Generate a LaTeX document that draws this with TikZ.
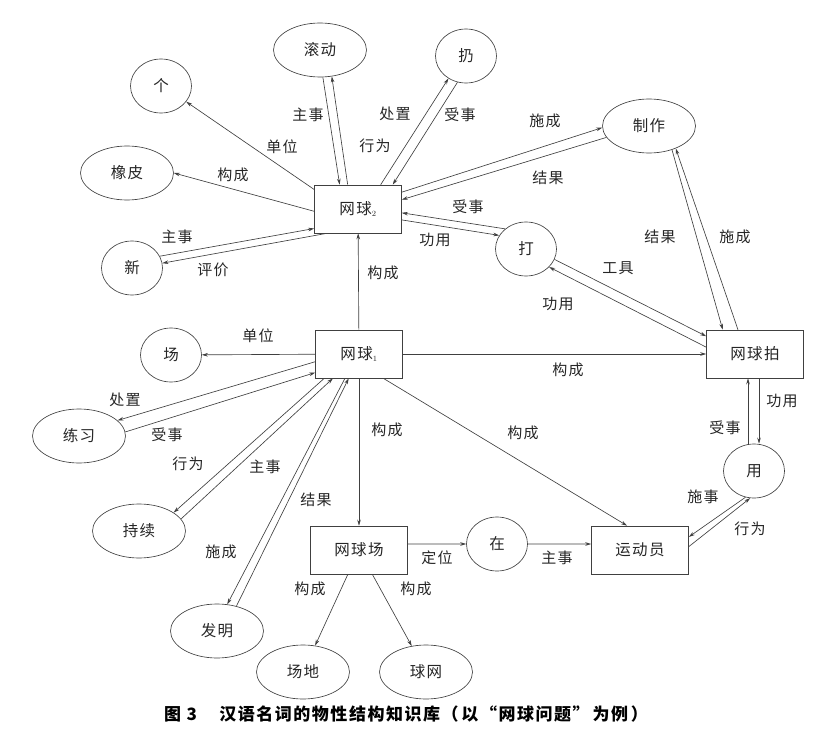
\documentclass[tikz,border=0pt]{standalone}
\usepackage{fontspec}
\setmainfont{Noto Sans CJK SC}[LetterSpace=9]
\usepackage{tikz}
\usetikzlibrary{shapes.geometric, arrows.meta}

\tikzset{
  oval/.style={draw=black!75, line width=0.65pt, ellipse, inner sep=0pt,
    minimum width=93pt, minimum height=54pt, text=black!85,
    font=\fontsize{15.5}{18}\selectfont},
  ring/.style={oval, minimum width=61pt},
  box/.style={draw=black!75, line width=0.65pt, rectangle, inner sep=0pt,
    minimum width=87pt, minimum height=48pt, text=black!85,
    font=\fontsize{15.5}{18}\selectfont},
  wbox/.style={box, minimum width=97pt},
  lab/.style={inner sep=0pt, text=black!85, font=\fontsize{15}{17}\selectfont},
  arr/.style={draw=black!75, line width=0.65pt, -{Stealth[length=6pt,width=3.6pt]}}
}

\begin{document}
\begin{tikzpicture}[x=1pt, y=-1pt]
\useasboundingbox (0,0) rectangle (832,746);

% concepts
\node[box] (wq2) at (358,209) {网球$_{\scriptscriptstyle 2}$};
\node[box] (wq1) at (359,354) {网球$_{\scriptscriptstyle 1}$};
\node[wbox] (pai) at (755,354) {网球拍};
\node[wbox] (qc) at (359,550) {网球场};
\node[wbox] (ydy) at (640,550) {运动员};
\node[oval] (gd) at (320,50) {滚动};
\node[ring] (reng) at (466,56) {扔};
\node[ring] (ge) at (161,86) {个};
\node[oval] (xp) at (127,173) {橡皮};
\node[ring] (xin) at (132,268) {新};
\node[oval] (zz) at (649,126) {制作};
\node[ring] (da) at (526,249) {打};
\node[ring] (chang) at (171,355) {场};
\node[oval] (lx) at (79,436) {练习};
\node[oval] (cx) at (139,531) {持续};
\node[oval] (fm) at (217,631) {发明};
\node[oval] (cd) at (303,672) {场地};
\node[oval] (qw) at (426,672) {球网};
\node[ring] (zai) at (497,544) {在};
\node[ring] (yong) at (754,471) {用};

% relations of wangqiu2
\draw[arr] (wq2.156) -- (ge.-32);
\draw[arr] (wq2.183) -- (xp.0);
\draw[arr] (xin.23) -- (wq2.204);
\draw[arr] (wq2.218) -- (xin.9);
\draw[arr] (gd.-84) -- (wq2.127);
\draw[arr] (wq2.113) -- (gd.-66);
\draw[arr] (wq2.47) -- (reng.-128);
\draw[arr] (reng.-108) -- (wq2.35);
\draw[arr] (wq2.21) -- (zz.182);
\draw[arr] (zz.195) -- (wq2.12);
\draw[arr] (da.136) -- (wq2.-5);
\draw[arr] (wq2.-14) -- (da.153);
\draw[arr] (wq1) -- (wq2);

% relations of wangqiu1
\draw[arr] (wq1) -- (chang);
\draw[arr] (wq1.190) -- (lx.22);
\draw[arr] (lx.5) -- (wq1.203);
\draw[arr] (wq1.215) -- (cx.28);
\draw[arr] (cx.16) -- (wq1.223);
\draw[arr] (wq1.240) -- (fm.69);
\draw[arr] (fm.52) -- (wq1.247);
\draw[arr] (wq1) -- (qc);
\draw[arr] (wq1) -- (pai);
\draw[arr] (wq1.-45) -- (ydy.118);

% court, player, racket
\draw[arr] (qc) -- (cd);
\draw[arr] (qc) -- (qw);
\draw[arr] (qc.7) -- (zai.180);
\draw[arr] (zai.0) -- (ydy.173);
\draw[arr] (yong.252) -- (ydy.15);
\draw[arr] (ydy.4) -- (yong.262);
\draw[arr] ([xshift=-6pt]yong.north) -- ([xshift=-6pt]yong.north |- pai.south);
\draw[arr] ([xshift=5pt]yong.north |- pai.south) -- ([xshift=5pt]yong.north);
\draw[arr] (da.-20) -- (pai.160);
\draw[arr] (pai.172) -- (da.-38);
\draw[arr] (zz.-46) -- (pai.143);
\draw[arr] (pai.125) -- (zz.-40);

% role labels
\node[lab] (ldw2) at (282,147) {单位};
\node[lab] (lzs1) at (308,115) {主事};
\node[lab] (lxw1) at (375,146) {行为};
\node[lab] (lcz1) at (395,114) {处置};
\node[lab] (lss1) at (460,115) {受事};
\node[lab] (lgc1) at (233,175) {构成};
\node[lab] (lzs2) at (177,237) {主事};
\node[lab] (lpj) at (213,270) {评价};
\node[lab] (lgc2) at (383,273) {构成};
\node[lab] (lss2) at (468,207) {受事};
\node[lab] (lgy1) at (435,240) {功用};
\node[lab] (lsc1) at (545,121) {施成};
\node[lab] (ljg1) at (548,178) {结果};
\node[lab] (ljg2) at (660,237) {结果};
\node[lab] (lsc2) at (735,237) {施成};
\node[lab] (lgj) at (618,268) {工具};
\node[lab] (lgy2) at (558,304) {功用};
\node[lab] (lgc3) at (568,370) {构成};
\node[lab] (ldw1) at (258,336) {单位};
\node[lab] (lcz2) at (125,400) {处置};
\node[lab] (lss3) at (167,435) {受事};
\node[lab] (lxw2) at (188,464) {行为};
\node[lab] (lzs3) at (265,467) {主事};
\node[lab] (ljg3) at (316,500) {结果};
\node[lab] (lsc3) at (221,552) {施成};
\node[lab] (lgc4) at (387,430) {构成};
\node[lab] (lgc5) at (310,589) {构成};
\node[lab] (lgc6) at (416,589) {构成};
\node[lab] (lgc7) at (523,433) {构成};
\node[lab] (ldw) at (437,558) {定位};
\node[lab] (lzs4) at (557,558) {主事};
\node[lab] (lss4) at (703,497) {施事};
\node[lab] (lxw3) at (750,529) {行为};
\node[lab] (lss5) at (725,428) {受事};
\node[lab] (lgy3) at (782,401) {功用};

% caption
\node[font=\fontsize{17}{20}\selectfont\bfseries] (cap) at (406,714)
  {图 3\quad\ 汉语名词的物性结构知识库（\,以“网球问题”\,为例\,）};
\end{tikzpicture}
\end{document}
